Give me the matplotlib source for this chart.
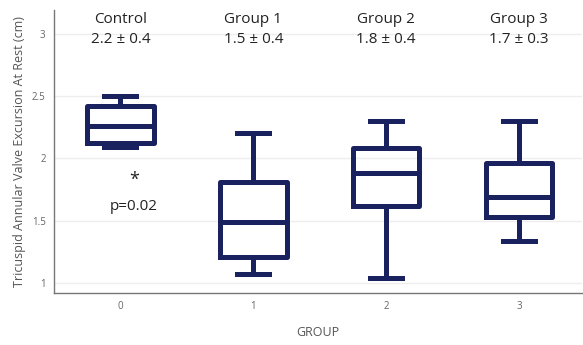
import matplotlib
matplotlib.use("Agg")
import matplotlib.pyplot as plt

# box stats
groups = [0, 1, 2, 3]
names = ["Control", "Group 1", "Group 2", "Group 3"]
means = ["2.2 ± 0.4", "1.5 ± 0.4", "1.8 ± 0.4", "1.7 ± 0.3"]
whislo = [2.09, 1.07, 1.04, 1.34]
q1 = [2.12, 1.21, 1.62, 1.53]
med = [2.26, 1.49, 1.88, 1.69]
q3 = [2.42, 1.81, 2.08, 1.96]
whishi = [2.50, 2.20, 2.30, 2.30]

navy = "#19215e"
plt.rcParams["font.family"] = ["Open Sans", "DejaVu Sans"]

fig = plt.figure(figsize=(5.83, 3.45), dpi=100)
ax = fig.add_axes([0.0926, 0.151, 0.905, 0.82])

stats = []
for i in range(len(groups)):
    stats.append({"whislo": whislo[i], "q1": q1[i], "med": med[i],
                  "q3": q3[i], "whishi": whishi[i], "fliers": []})

lw = 3.6
ax.bxp(stats, positions=groups, widths=0.5, showfliers=False,
       boxprops=dict(color=navy, linewidth=lw),
       medianprops=dict(color=navy, linewidth=lw),
       whiskerprops=dict(color=navy, linewidth=lw),
       capprops=dict(color=navy, linewidth=lw), capwidths=0.24)

for g, n, m in zip(groups, names, means):
    ax.text(g, 3.11, n, ha="center", va="center", fontsize=11, color="#222222")
    ax.text(g, 2.95, m, ha="center", va="center", fontsize=11, color="#222222")

ax.text(0.1, 1.83, "*", ha="center", va="center", fontsize=13, color="#222222")
ax.text(0.1, 1.61, "p=0.02", ha="center", va="center", fontsize=11, color="#222222")

ax.set_xlim(-0.5, 3.47)
ax.set_ylim(0.92, 3.19)
ax.set_xticks(groups)
ax.set_xticklabels([str(g) for g in groups])
ax.set_yticks([1, 1.5, 2, 2.5, 3])
ax.set_yticklabels(["1", "1.5", "2", "2.5", "3"])
ax.tick_params(length=0, labelsize=7, colors="#666666", pad=6)
ax.yaxis.grid(True, color="#eeeeee", linewidth=1)
ax.set_axisbelow(True)
for s in ["top", "right"]:
    ax.spines[s].set_visible(False)
for s in ["left", "bottom"]:
    ax.spines[s].set_color("#777777")
    ax.spines[s].set_linewidth(1)

ax.set_ylabel("Tricuspid Annular Valve Excursion At Rest (cm)", fontsize=9, color="#555555")
ax.set_xlabel("GROUP", fontsize=9, color="#555555", labelpad=10)

fig.savefig("out.png", dpi=100)
